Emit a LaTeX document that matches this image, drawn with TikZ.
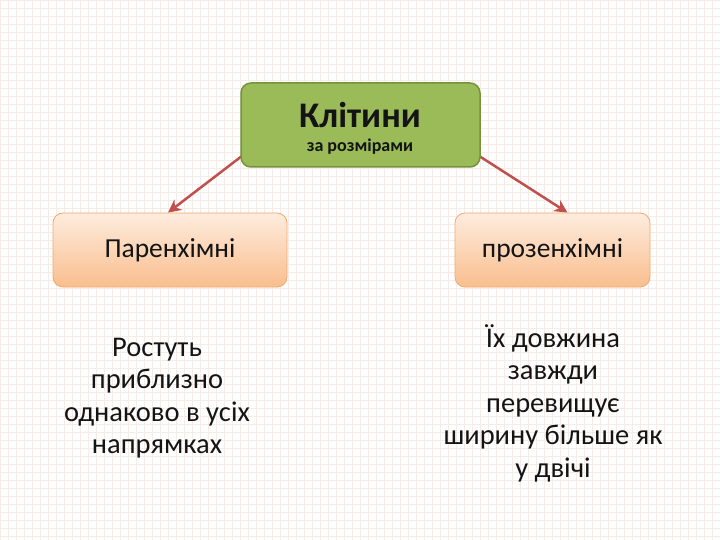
\documentclass[tikz,border=0pt]{standalone}
\usepackage{fontspec}
\setmainfont{Carlito}
\usetikzlibrary{arrows.meta,calc}
\definecolor{gridc}{RGB}{245,236,232}
\definecolor{greenf}{RGB}{155,187,89}
\definecolor{greend}{RGB}{118,146,60}
\definecolor{peachtop}{RGB}{253,236,222}
\definecolor{peachbot}{RGB}{250,190,142}
\definecolor{peachd}{RGB}{240,170,110}
\definecolor{arrowc}{RGB}{192,80,77}
\definecolor{txt}{RGB}{20,20,20}
\pgfdeclarelayer{bglayer}
\pgfdeclarelayer{arrlayer}
\pgfsetlayers{bglayer,arrlayer,main}
\tikzset{
  topbox/.style={draw=greend, line width=1.5pt, fill=greenf, rounded corners=10pt,
    minimum width=239pt, minimum height=84pt, inner sep=0pt},
  peachbox/.style={draw=peachd, line width=0.8pt, top color=peachtop, bottom color=peachbot,
    rounded corners=10pt, minimum height=74pt, inner sep=0pt, text=txt, font=\fontsize{27.5}{30}\selectfont},
  bodytext/.style={align=center, text=txt, font=\fontsize{28.5}{32.5}\selectfont, inner sep=0pt},
  conn/.style={draw=arrowc, line width=2.5pt, -{Stealth[length=13pt,width=13pt]}}
}
\begin{document}
\begin{tikzpicture}[x=1pt,y=-1pt]
\useasboundingbox (0,0) rectangle (720,540);
\begin{pgfonlayer}{bglayer}
\fill[white] (0,0) rectangle (720,540);
\foreach \i in {0,8,...,720} {\draw[gridc, line width=0.9pt] (\i,0) -- (\i,540);}
\foreach \j in {0,8,...,540} {\draw[gridc, line width=0.9pt] (0,\j) -- (720,\j);}
\end{pgfonlayer}

\node[topbox] (top) at (360.5,125) {};
\node[font=\bfseries\fontsize{36}{40}\selectfont, text=txt, inner sep=0pt] (title) at (360,115) {Клітини};
\node[font=\bfseries\fontsize{18}{20}\selectfont, text=txt, inner sep=0pt] (sub) at (360,147) {за розмірами};

\node[peachbox, minimum width=234pt] (left) at (170,250) {Паренхімні};
\node[peachbox, minimum width=195pt] (right) at (552.5,250) {прозенхімні};

\node[bodytext] (ltext) at (157,398) {Ростуть\\приблизно\\однаково в усіх\\напрямках};
\node[bodytext] (rtext) at (553,403) {Їх довжина\\завжди\\перевищує\\ширину більше як\\у двічі};

\begin{pgfonlayer}{arrlayer}
\draw[conn] ([shift={(2,-12)}]top.south west) -- ([shift={(-2,0)}]left.north);
\draw[conn] ([shift={(-2,-12)}]top.south east) -- ([shift={(15,0)}]right.north);
\end{pgfonlayer}
\end{tikzpicture}
\end{document}
